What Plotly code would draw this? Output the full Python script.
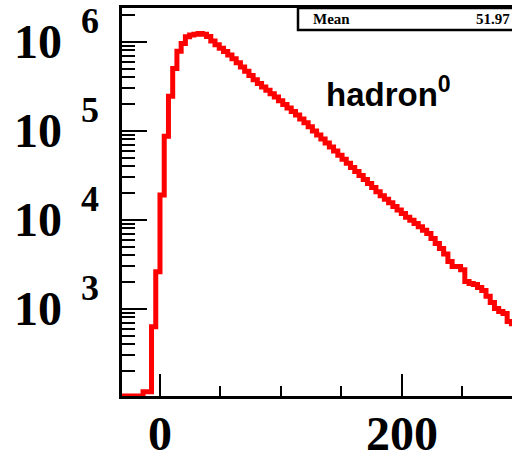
import math
import plotly.graph_objects as go

# ---- data ----
bin_width = 3.5
first_edge = -35
counts = [
    0, 0, 0, 0, 0, 0, 117, 117, 630, 2600,
    19000, 87000, 245000, 500000, 783000, 955000, 1140000, 1190000, 1220000, 1240000,
    1220000, 1150000, 1020000, 927000, 849000, 780000, 711000, 644000, 581000, 521000,
    467000, 418000, 374000, 340000, 311000, 285000, 261000, 240000, 217000, 197000,
    180000, 165000, 151000, 136000, 123000, 111000, 99800, 89700, 80900, 72900,
    65800, 59300, 53100, 47800, 43100, 38700, 34900, 31400, 28300, 25500,
    23000, 20700, 18600, 17000, 15500, 14100, 12900, 11800, 10700, 9860,
    9080, 8340, 7640, 7020, 6180, 5410, 4760, 4120, 3400, 2990,
    2990, 2750, 2020, 1920, 1870, 1740, 1610, 1380, 1180, 1010,
    933, 887, 721, 680,
]
x_tick_vals = [0, 200]
x_tick_text = ["0", "200"]
x_minor_vals = [50, 100, 150, 250]
y_tick_vals = [1e3, 1e4, 1e5, 1e6]
y_tick_base = "10"
y_exponents = ["3", "4", "5", "6"]
y_minor_vals = [m * 10 ** k for k in range(2, 7) for m in range(2, 10) if m * 10 ** k < 2.4e6]
stat_label = "Mean"
stat_value = "51.97"
title_text = "hadron<sup>0</sup>"

# ---- build step line ----
y_log_min, y_log_max = 2.02, 6.38
floor = 10 ** y_log_min
edges = [first_edge + i * bin_width for i in range(len(counts) + 1)]
yvals = [c if c > 0 else floor for c in counts]
xs = edges
ys = yvals + [yvals[-1]]

fig = go.Figure()
fig.add_trace(go.Scatter(x=xs, y=ys, mode="lines", line=dict(shape="hv", color="#ff0000", width=5),
                         hoverinfo="skip"))

W, H = 512, 452
L, T, B = 122, 8, 56
pw, ph = W - L, H - T - B

def pxx(px):
    return (px - L) / pw

def pyy(py):
    return (H - B - py) / ph

fig.update_layout(
    width=W, height=H,
    margin=dict(l=L, r=0, t=T, b=B, pad=0, autoexpand=False),
    paper_bgcolor="white", plot_bgcolor="white",
    showlegend=False,
    xaxis=dict(range=[-31.4, 291], showgrid=False, zeroline=False, automargin=False,
               showline=True, linewidth=3, linecolor="black", mirror=True,
               ticks="inside", ticklen=22, tickwidth=1.5, tickcolor="black",
               tickmode="array", tickvals=x_tick_vals, ticktext=x_tick_text,
               tickfont=dict(family="Liberation Serif", size=48, color="black", weight="bold"),
               ticklabelstandoff=-7,
               minor=dict(tickmode="array", tickvals=x_minor_vals, ticks="inside", ticklen=10,
                          tickwidth=1.5, tickcolor="black", showgrid=False)),
    yaxis=dict(type="log", range=[y_log_min, y_log_max], showgrid=False, zeroline=False, automargin=False,
               showline=True, linewidth=3, linecolor="black",
               ticks="inside", ticklen=25, tickwidth=1.5, tickcolor="black",
               tickmode="array", tickvals=y_tick_vals, showticklabels=False,
               minor=dict(tickmode="array", tickvals=y_minor_vals, ticks="inside", ticklen=13,
                          tickwidth=1.5, tickcolor="black", showgrid=False)),
)

# y tick labels in ROOT style: "10" with a large raised exponent, placed at the axis values
for v, e in zip(y_tick_vals, y_exponents):
    fig.add_annotation(xref="paper", yref="y", x=pxx(64), y=math.log10(v), text="<b>" + y_tick_base + "</b>",
                       showarrow=False, xanchor="right", yanchor="middle",
                       font=dict(family="Liberation Serif", size=48, color="black"))
    fig.add_annotation(xref="paper", yref="y", x=pxx(79), y=math.log10(v), text="<b>" + e + "</b>",
                       showarrow=False, xanchor="left", yanchor="middle", yshift=21,
                       font=dict(family="Liberation Serif", size=36, color="black"))

# stats box
fig.add_shape(type="rect", xref="paper", yref="paper", x0=pxx(298), x1=pxx(530), y0=pyy(30), y1=pyy(8),
              line=dict(color="black", width=2.5), fillcolor="white", layer="above")
fig.add_annotation(xref="paper", yref="paper", x=pxx(311), y=pyy(19), text="<b>" + stat_label + "</b>",
                   showarrow=False, xanchor="left", yanchor="middle",
                   font=dict(family="Liberation Serif", size=15, color="black"))
fig.add_annotation(xref="paper", yref="paper", x=pxx(512), y=pyy(19), text="<b>" + stat_value + "</b>",
                   showarrow=False, xanchor="right", yanchor="middle",
                   font=dict(family="Liberation Serif", size=15, color="black"))
fig.add_annotation(xref="paper", yref="paper", x=pxx(324), y=pyy(92), text="<b>" + title_text + "</b>",
                   showarrow=False, xanchor="left", yanchor="middle",
                   font=dict(family="Liberation Sans", size=33, color="black"))

fig.write_html("out.html")
